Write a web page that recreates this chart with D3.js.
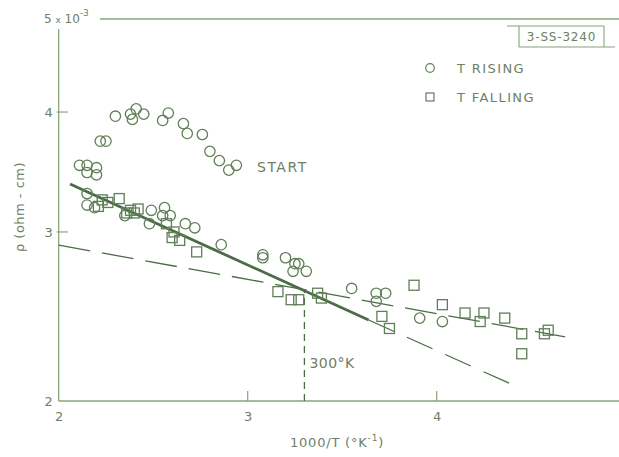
<!DOCTYPE html>
<html><head><meta charset="utf-8">
<script src="https://cdn.jsdelivr.net/npm/d3@7"></script>
<style>
body{margin:0;background:#fff;}
svg{display:block;}
text{font-family:"DejaVu Sans",sans-serif;fill:#6d8066;}
</style></head>
<body>
<svg id="c" width="619" height="457"></svg>
<script>
// ---- data ----
const xTicks = [2, 3, 4];
const yTicks = [2, 3, 4];
const rising = [
  [2.30,3.96],[2.38,3.98],[2.41,4.03],[2.39,3.93],[2.45,3.98],[2.55,3.92],[2.58,3.99],
  [2.66,3.89],[2.68,3.80],[2.76,3.79],[2.80,3.64],[2.85,3.56],[2.90,3.48],[2.94,3.52],
  [2.22,3.73],[2.25,3.73],[2.11,3.52],[2.15,3.52],[2.15,3.46],[2.20,3.50],[2.20,3.44],
  [2.15,3.29],[2.15,3.20],[2.19,3.18],[2.35,3.12],[2.49,3.16],[2.56,3.18],[2.55,3.12],
  [2.59,3.12],[2.48,3.06],[2.67,3.06],[2.72,3.03],[2.86,2.91],[3.08,2.84],[3.08,2.82],
  [3.20,2.82],[3.25,2.78],[3.27,2.78],[3.24,2.73],[3.31,2.73],[3.55,2.62],[3.68,2.59],
  [3.73,2.59],[3.68,2.54],[3.91,2.44],[4.03,2.42]
];
const falling = [
  [2.21,3.19],[2.23,3.24],[2.26,3.22],[2.32,3.25],[2.38,3.16],[2.42,3.17],[2.40,3.14],
  [2.36,3.14],[2.57,3.06],[2.61,3.00],[2.60,2.96],[2.64,2.94],[2.73,2.86],[3.16,2.60],
  [3.23,2.55],[3.27,2.55],[3.37,2.59],[3.39,2.56],[3.71,2.45],[3.75,2.38],[3.88,2.64],
  [4.03,2.52],[4.15,2.47],[4.25,2.47],[4.23,2.42],[4.36,2.44],[4.45,2.35],[4.57,2.35],
  [4.59,2.37],[4.45,2.24]
];
const fitSolid = [[2.06,3.365],[3.64,2.429]];
const fitSolidExt = [[3.64,2.429],[4.44,2.063]];
const fitShallow = [[2.0,2.907],[4.68,2.332]];
const roomTemp = [[3.30,2.0],[3.30,2.61]];

// ---- drawing ----
const svg = d3.select("#c");
const axisCol = "#86a676", markCol = "#5f7f57", lineCol = "#4c6c47";
const x = d3.scaleLinear().domain([2,5]).range([58.7, 58.7+3*189]);
const y = d3.scaleLog().domain([2,5]).range([401, 19]);

// frame lines
svg.append("line").attr("x1",x(2)).attr("x2",619).attr("y1",y(2)).attr("y2",y(2))
  .attr("stroke",axisCol).attr("stroke-width",1.3);
svg.append("line").attr("x1",x(2)).attr("x2",x(2)).attr("y1",29).attr("y2",y(2))
  .attr("stroke",axisCol).attr("stroke-width",1.3);
svg.append("line").attr("x1",100).attr("x2",619).attr("y1",y(5)).attr("y2",y(5))
  .attr("stroke",axisCol).attr("stroke-width",1.3);

// x axis
const xa = svg.append("g").attr("transform",`translate(0,${y(2)})`)
  .call(d3.axisBottom(x).tickValues(xTicks).tickSize(0).tickPadding(11).tickFormat(d3.format("d")));
xa.select(".domain").remove();
xa.selectAll("text").attr("font-size",13).style("fill","#6d8066").attr("font-family","DejaVu Sans");
xTicks.slice(1).forEach(t=>{
  svg.append("line").attr("x1",x(t)).attr("x2",x(t)).attr("y1",y(2)).attr("y2",y(2)-10)
    .attr("stroke",axisCol).attr("stroke-width",1.2);
});
// y axis
const ya = svg.append("g").attr("transform",`translate(${x(2)},0)`)
  .call(d3.axisLeft(y).tickValues(yTicks).tickSize(0).tickPadding(6).tickFormat(d3.format("d")));
ya.select(".domain").remove();
ya.selectAll("text").attr("font-size",13).style("fill","#6d8066").attr("font-family","DejaVu Sans");
yTicks.slice(1).forEach(t=>{
  svg.append("line").attr("x1",x(2)-2).attr("x2",x(2)+9).attr("y1",y(t)).attr("y2",y(t))
    .attr("stroke",axisCol).attr("stroke-width",1.2);
});
// 5 x 10^-3
const top5 = svg.append("text").attr("x",44).attr("y",y(5)+4).attr("font-size",12);
top5.append("tspan").text("5 ");
top5.append("tspan").attr("font-size",9).text("x");
top5.append("tspan").text(" 10");
top5.append("tspan").attr("font-size",9).attr("dy",-7).text("-3");

// axis titles
svg.append("text").attr("transform","translate(24,207) rotate(-90)").attr("text-anchor","middle")
  .attr("font-size",13).attr("letter-spacing",0.5).text("ρ (ohm - cm)");
const xt = svg.append("text").attr("x",337).attr("y",447).attr("text-anchor","middle")
  .attr("font-size",13).attr("letter-spacing",0.8);
xt.append("tspan").text("1000/T  (°K");
xt.append("tspan").attr("font-size",9).attr("dy",-6).text("-1");
xt.append("tspan").attr("dy",6).text(")");

// fit lines
const line = d3.line().x(d=>x(d[0])).y(d=>y(d[1]));
svg.append("path").datum(fitShallow).attr("d",line).attr("fill","none")
  .attr("stroke",lineCol).attr("stroke-width",1.3).attr("stroke-dasharray","32,12");
svg.append("path").datum(fitSolidExt).attr("d",line).attr("fill","none")
  .attr("stroke",lineCol).attr("stroke-width",1.3).attr("stroke-dasharray","28,14");
svg.append("path").datum(roomTemp).attr("d",line).attr("fill","none")
  .attr("stroke",lineCol).attr("stroke-width",1.3).attr("stroke-dasharray","7,5");
svg.append("path").datum(fitSolid).attr("d",line).attr("fill","none")
  .attr("stroke",lineCol).attr("stroke-width",2.8);

// markers
svg.append("g").selectAll("circle").data(rising).join("circle")
  .attr("cx",d=>x(d[0])).attr("cy",d=>y(d[1])).attr("r",5.2)
  .attr("fill","none").attr("stroke",markCol).attr("stroke-width",1.3);
svg.append("g").selectAll("rect").data(falling).join("rect")
  .attr("x",d=>x(d[0])-5).attr("y",d=>y(d[1])-5).attr("width",10).attr("height",10)
  .attr("fill","none").attr("stroke",markCol).attr("stroke-width",1.3);

// annotations
svg.append("text").attr("x",x(3.30)+5).attr("y",368).attr("font-size",14).attr("letter-spacing",0.5).text("300°K");
svg.append("text").attr("x",257).attr("y",172).attr("font-size",14).attr("letter-spacing",1.5).text("START");

// legend
svg.append("circle").attr("cx",430).attr("cy",68).attr("r",4.3).attr("fill","none")
  .attr("stroke",markCol).attr("stroke-width",1.2);
svg.append("text").attr("x",457).attr("y",73).attr("font-size",13).attr("letter-spacing",1.4).text("T RISING");
svg.append("rect").attr("x",426).attr("y",93).attr("width",8).attr("height",8).attr("fill","none")
  .attr("stroke",markCol).attr("stroke-width",1.2);
svg.append("text").attr("x",457).attr("y",102).attr("font-size",13).attr("letter-spacing",1.4).text("T FALLING");

// id box
const bx = svg.append("g").attr("stroke",axisCol).attr("stroke-width",1.1);
bx.append("line").attr("x1",507).attr("x2",604).attr("y1",26).attr("y2",26);
bx.append("line").attr("x1",519).attr("x2",615).attr("y1",47).attr("y2",47);
bx.append("line").attr("x1",519).attr("x2",519).attr("y1",26).attr("y2",47);
bx.append("line").attr("x1",604).attr("x2",604).attr("y1",26).attr("y2",47);
svg.append("text").attr("x",561.5).attr("y",41).attr("text-anchor","middle").attr("font-size",12)
  .attr("letter-spacing",0.8).text("3-SS-3240");
</script>
</body></html>
